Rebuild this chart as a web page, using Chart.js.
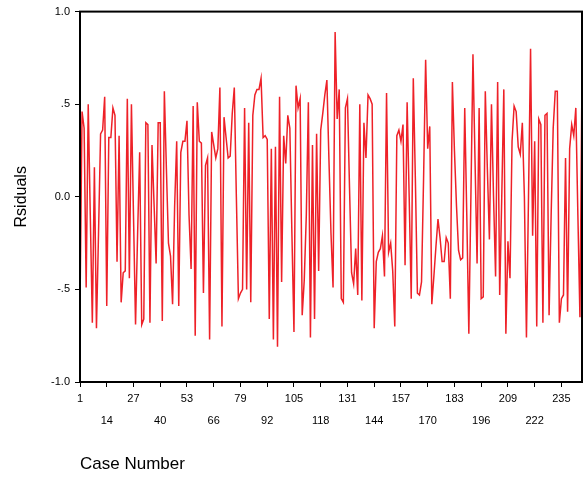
<!DOCTYPE html>
<html>
<head>
<meta charset="utf-8">
<script src="https://cdn.jsdelivr.net/npm/chart.js@4.4.1/dist/chart.umd.min.js"></script>
<style>
  html, body { margin: 0; padding: 0; background: #fff; }
</style>
</head>
<body>
<canvas id="residualChart" width="585" height="479"></canvas>
<script>
// residual per case, 13 cases per row
const residuals = [
  -0.59, 0.46, 0.37, -0.49, 0.50, -0.10, -0.68, 0.16, -0.71, -0.20, 0.34, 0.36, 0.54,
  -0.59, 0.32, 0.32, 0.48, 0.44, -0.35, 0.33, -0.57, -0.41, -0.40, 0.53, -0.44, 0.50,
  -0.10, -0.69, -0.20, 0.24, -0.69, -0.66, 0.40, 0.39, -0.68, 0.28, -0.04, -0.36, 0.40,
  0.40, -0.67, 0.57, 0.15, -0.25, -0.32, -0.58, -0.05, 0.30, -0.59, 0.24, 0.30, 0.30,
  0.41, -0.10, -0.39, 0.49, -0.75, 0.51, 0.30, 0.29, -0.52, 0.17, 0.21, -0.77, 0.35,
  0.28, 0.21, 0.26, 0.59, -0.70, 0.43, 0.32, 0.21, 0.22, 0.45, 0.59, 0.00, -0.55,
  -0.52, -0.50, 0.48, -0.50, 0.40, -0.57, 0.44, 0.55, 0.58, 0.58, 0.64, 0.32, 0.33,
  0.31, -0.66, 0.26, -0.77, 0.27, -0.81, 0.54, -0.46, 0.33, 0.18, 0.44, 0.37, -0.20,
  -0.73, 0.60, 0.48, 0.53, -0.64, -0.45, -0.10, 0.51, -0.76, 0.28, -0.66, 0.34, -0.40,
  0.36, 0.45, 0.55, 0.63, 0.20, -0.20, -0.49, 0.89, 0.42, 0.58, -0.55, -0.57, 0.48,
  0.53, 0.05, -0.41, -0.47, -0.28, -0.53, 0.50, -0.56, 0.40, 0.21, 0.55, 0.53, 0.50,
  -0.71, -0.35, -0.30, -0.28, -0.21, -0.43, 0.56, -0.30, -0.25, -0.40, -0.70, 0.33, 0.36,
  0.30, 0.39, -0.37, 0.51, 0.00, -0.55, 0.64, 0.10, -0.52, -0.53, -0.46, 0.10, 0.74,
  0.26, 0.38, -0.58, -0.43, -0.27, -0.12, -0.22, -0.35, -0.35, -0.22, -0.25, -0.55, 0.62,
  0.25, -0.05, -0.29, -0.34, -0.33, 0.48, -0.10, -0.74, 0.00, 0.77, 0.20, -0.36, 0.48,
  -0.55, -0.54, 0.57, 0.15, -0.23, 0.50, 0.00, -0.43, 0.62, -0.53, 0.00, 0.58, -0.74,
  -0.24, -0.44, 0.30, 0.49, 0.46, 0.27, 0.23, 0.40, 0.00, -0.76, 0.00, 0.80, -0.21,
  0.30, -0.70, 0.42, 0.39, -0.68, 0.44, 0.45, -0.64, -0.10, 0.37, 0.57, 0.57, -0.68,
  -0.55, -0.53, 0.21, -0.62, 0.26, 0.39, 0.33, 0.48, -0.10, -0.65, 0.66
];

const caseNumbers = residuals.map((v, i) => String(i + 1));
const caseTickStep = 13;

const yTickValues = [-1, -0.5, 0, 0.5, 1];
const yTickLabels = ['-1.0', '-.5', '0.0', '.5', '1.0'];

const fontFamily = "'Liberation Sans', Arial, sans-serif";
const labelFont = { family: fontFamily, size: 11, lineHeight: 2 };

// box round the plot area
const plotFrame = {
  id: 'plotFrame',
  afterDraw(chart) {
    const { ctx, chartArea: a } = chart;
    ctx.save();
    ctx.strokeStyle = '#000';
    ctx.lineWidth = 2;
    ctx.strokeRect(a.left, a.top, a.right - a.left, a.bottom - a.top);
    ctx.restore();
  }
};

const ctx = document.getElementById('residualChart').getContext('2d');
new Chart(ctx, {
  type: 'line',
  data: {
    labels: caseNumbers,
    datasets: [{
      data: residuals,
      borderColor: '#ee2128',
      borderWidth: 1.5,
      pointRadius: 0,
      tension: 0,
      fill: false
    }]
  },
  options: {
    responsive: false,
    animation: false,
    layout: { padding: { top: 11, right: 3, left: 0, bottom: 0 } },
    plugins: { legend: { display: false }, tooltip: { enabled: false } },
    scales: {
      x: {
        offset: false,
        border: { display: false },
        grid: { drawOnChartArea: false, drawTicks: true, tickLength: 5, color: '#000' },
        afterBuildTicks: scale => {
          scale.ticks = scale.ticks.filter(t => t.value % caseTickStep === 0);
        },
        afterFit: scale => { scale.height = 97; },
        ticks: {
          autoSkip: false,
          maxRotation: 0,
          minRotation: 0,
          padding: 1,
          color: '#000',
          font: labelFont,
          // every other label drops to a second row
          callback: function(value, index) {
            const text = this.getLabelForValue(value);
            return index % 2 ? ['', text] : text;
          }
        },
        title: {
          display: true,
          text: 'Case Number',
          align: 'start',
          color: '#000',
          font: { family: fontFamily, size: 17 },
          padding: { top: 0, bottom: 4 }
        }
      },
      y: {
        min: -1,
        max: 1,
        border: { display: false },
        grid: { drawOnChartArea: false, drawTicks: true, tickLength: 5, color: '#000' },
        afterFit: scale => { scale.width = 80; },
        ticks: {
          stepSize: 0.5,
          padding: 5,
          color: '#000',
          font: { family: fontFamily, size: 11 },
          callback: value => yTickLabels[yTickValues.indexOf(value)]
        },
        title: {
          display: true,
          text: 'Rsiduals',
          color: '#000',
          font: { family: fontFamily, size: 16 },
          padding: { top: 12, bottom: 0 }
        }
      }
    }
  },
  plugins: [plotFrame]
});
</script>
</body>
</html>
